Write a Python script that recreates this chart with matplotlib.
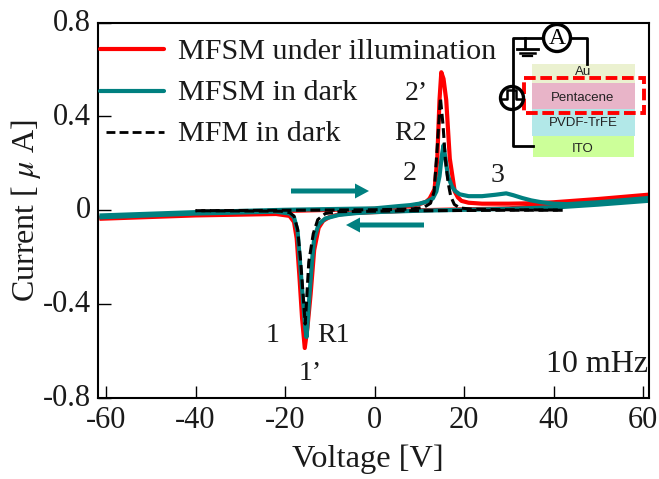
import matplotlib
matplotlib.use("Agg")
import matplotlib.pyplot as plt
from matplotlib.patches import Rectangle, Circle, FancyArrow
from matplotlib.transforms import ScaledTranslation

plt.rcParams["font.family"] = "Liberation Serif"
plt.rcParams["mathtext.fontset"] = "stix"
plt.rcParams["axes.unicode_minus"] = False

# forward sweep (negative to positive), backward sweep (positive to negative)
red_fwd_x = [-61, -40, -20, 0, 5, 8, 10, 11.5, 12.3, 13.4, 14, 14.5, 14.9, 15.4, 16, 16.8, 17.9, 18.6, 19.4, 21, 24, 30, 36, 40, 50, 61]
red_fwd_y = [-0.032, -0.014, -0.003, 0.006, 0.012, 0.018, 0.026, 0.036, 0.05, 0.09, 0.22, 0.47, 0.588, 0.56, 0.47, 0.22, 0.08, 0.055, 0.04, 0.032, 0.028, 0.028, 0.03, 0.034, 0.048, 0.066]
red_bwd_x = [61, 50, 40, 30, 10, 0, -5, -8, -10, -11.5, -12.5, -13.5, -14.3, -15, -15.6, -16.2, -16.8, -17.4, -18, -19, -22, -40, -61]
red_bwd_y = [0.058, 0.04, 0.022, 0.008, 0.0, -0.008, -0.012, -0.018, -0.028, -0.045, -0.075, -0.17, -0.36, -0.5, -0.587, -0.46, -0.28, -0.12, -0.05, -0.024, -0.016, -0.022, -0.036]

teal_fwd_x = [-61, -40, -20, 0, 5, 8, 10, 11.5, 13, 13.8, 14.5, 15, 15.4, 15.9, 16.4, 17.3, 18, 19, 21, 24, 27, 29.4, 31, 33, 35, 37, 40, 43, 50, 61]
teal_fwd_y = [-0.022, -0.008, 0.002, 0.008, 0.017, 0.022, 0.028, 0.036, 0.05, 0.08, 0.145, 0.23, 0.277, 0.21, 0.145, 0.1, 0.082, 0.068, 0.06, 0.06, 0.066, 0.072, 0.064, 0.052, 0.042, 0.035, 0.028, 0.026, 0.034, 0.052]
teal_bwd_x = [61, 50, 42, 30, 10, 0, -4, -8, -11, -12.5, -13.5, -14, -14.7, -15.2, -15.5, -16.3, -17.2, -18, -19, -22, -40, -61]
teal_bwd_y = [0.04, 0.024, 0.014, 0.006, -0.002, -0.008, -0.012, -0.02, -0.035, -0.06, -0.12, -0.22, -0.4, -0.54, -0.5, -0.31, -0.09, -0.03, -0.014, -0.006, -0.014, -0.03]

black_fwd_x = [-40, -20, 0, 8, 11, 12.5, 13.3, 14, 14.7, 15.3, 15.8, 16.4, 17, 17.8, 19, 22, 30, 42]
black_fwd_y = [-0.002, 0.0, 0.002, 0.005, 0.012, 0.03, 0.08, 0.27, 0.48, 0.36, 0.22, 0.12, 0.06, 0.025, 0.01, 0.004, 0.002, 0.001]
black_bwd_x = [42, 30, 10, 0, -8, -11, -12.7, -13.7, -14.7, -15.5, -15.9, -16.5, -17.2, -18, -19, -21, -40]
black_bwd_y = [0.0, 0.0, -0.002, -0.004, -0.006, -0.014, -0.04, -0.1, -0.22, -0.485, -0.38, -0.22, -0.08, -0.025, -0.01, -0.004, -0.002]

x_ticks = [-60, -40, -20, 0, 20, 40, 60]
y_ticks = [-0.8, -0.4, 0, 0.4, 0.8]
y_labels = ["-0.8", "-0.4", "0", "0.4", "0.8"]

W, H = 659, 479
RED = "#ff0000"
TEAL = "#008080"
TXT = "#1a1a1a"

fig = plt.figure(figsize=(W / 100, H / 100), dpi=100)
ax = fig.add_axes([97.5 / W, 1 - 398 / H, (649 - 97.5) / W, (398 - 22.5) / H])

ax.plot(red_fwd_x, red_fwd_y, color=RED, lw=3)
ax.plot(red_bwd_x, red_bwd_y, color=RED, lw=3)
ax.plot(teal_fwd_x, teal_fwd_y, color=TEAL, lw=3)
ax.plot(teal_bwd_x, teal_bwd_y, color=TEAL, lw=3)
ax.plot(black_fwd_x, black_fwd_y, color="black", lw=2.2, ls=(0, (3.2, 1.5)))
ax.plot(black_bwd_x, black_bwd_y, color="black", lw=2.2, ls=(0, (3.2, 1.5)))

ax.set_xlim(-61.9, 61.3)
ax.set_ylim(-0.8, 0.8)
ax.set_xticks(x_ticks)
ax.set_yticks(y_ticks)
ax.set_yticklabels(y_labels)
ax.tick_params(direction="in", length=9, width=1, labelsize=22, labelcolor=TXT)
ax.tick_params(axis="x", pad=6)
ax.tick_params(axis="y", pad=5)
for lbl in ax.get_yticklabels():
    lbl.set_transform(lbl.get_transform() + ScaledTranslation(0, 2 / 72, fig.dpi_scale_trans))
for s in ax.spines.values():
    s.set_linewidth(1.5)
ax.set_xlabel("Voltage [V]", fontsize=23.3, color=TXT)
ax.xaxis.set_label_coords(0.49, -0.125)
ax.set_ylabel(r"Current [ $\mu$ A]", fontsize=23, color=TXT)
ax.yaxis.set_label_coords(-0.099, 0.498)

# overlay in pixel coordinates for legend, notes and device sketch
ov = fig.add_axes([0, 0, 1, 1], facecolor="none")
ov.set_xlim(0, W)
ov.set_ylim(H, 0)
ov.axis("off")

ov.plot([100, 164], [49, 49], color=RED, lw=3, solid_capstyle="round")
ov.plot([100, 164], [91, 91], color=TEAL, lw=3, solid_capstyle="round")
ov.plot([106, 164], [132, 132], color="black", lw=2, ls=(0, (3.2, 1.5)))
ov.text(178, 52, "MFSM under illumination", fontsize=21.7, color=TXT, va="center")
ov.text(178, 93, "MFSM in dark", fontsize=21.7, color=TXT, va="center")
ov.text(178, 134, "MFM in dark", fontsize=21.7, color=TXT, va="center")

for s, x, y in [("2’", 416, 93), ("R2", 410, 133), ("2", 410, 173), ("3", 498, 175),
                ("1", 273, 335), ("R1", 333, 335), ("1’", 310, 373)]:
    ov.text(x, y, s, fontsize=20, color=TXT, ha="center", va="center")
ov.text(597, 365, "10 mHz", fontsize=23, color=TXT, ha="center", va="center")

ov.add_patch(FancyArrow(291, 191, 78, 0, width=5, head_width=15, head_length=14,
                        length_includes_head=True, color=TEAL, lw=0))
ov.add_patch(FancyArrow(424, 225, -78, 0, width=5, head_width=15, head_length=14,
                        length_includes_head=True, color=TEAL, lw=0))

# device stack
for x0, x1, y0, y1, c in [(532, 635, 64, 83, "#ebf1d0"), (532, 635, 83, 109, "#e8b4c8"),
                          (532, 635, 109, 136, "#b2e8e8"), (533, 634, 136, 157, "#ccff99")]:
    ov.add_patch(Rectangle((x0, y0), x1 - x0, y1 - y0, facecolor=c, edgecolor="none"))
for s, y in [("Au", 72), ("Pentacene", 98), ("PVDF-TrFE", 123), ("ITO", 149)]:
    ov.text(583, y, s, fontsize=9.5, family="Liberation Sans", color="#222222", ha="center", va="center")
ov.add_patch(Rectangle((524, 78), 120, 35, fill=False, edgecolor=RED, lw=2.8, ls=(0, (3, 1.2))))

# wiring
ov.plot([533, 513, 513, 543], [146, 146, 38, 38], color="black", lw=2)
ov.plot([571, 587, 587], [38, 38, 64], color="black", lw=2)
ov.plot([525, 525], [38, 48], color="black", lw=2)
ov.plot([517, 538], [49, 49], color="black", lw=2)
ov.plot([520, 535], [52.5, 52.5], color="black", lw=1.8)
ov.plot([523, 532], [56, 56], color="black", lw=1.6)
ov.add_patch(Circle((557, 38), 13.5, facecolor="white", edgecolor="black", lw=2.4))
ov.text(557, 38, "A", fontsize=17, color="black", ha="center", va="center")
ov.add_patch(Circle((512, 98), 11.5, facecolor="white", edgecolor="black", lw=2.4))
ov.plot([501, 507, 507, 516, 516, 523], [99, 99, 90, 90, 99, 99], color="black", lw=1.8)

fig.savefig("out.png", dpi=100)
